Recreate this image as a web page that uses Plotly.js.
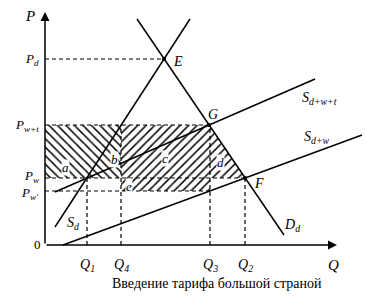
<!DOCTYPE html>
<html>
<head>
<meta charset="utf-8">
<script src="https://cdn.plot.ly/plotly-3.0.1.min.js"></script>
<style>
  html, body { margin: 0; padding: 0; background: #fff; }
  #chart { width: 366px; height: 300px; }
</style>
</head>
<body>
<div id="chart"></div>
<script>
// Price levels on the P axis
const priceNames = ['P<sub>d</sub>', 'P<sub>w+t</sub>', 'P<sub>w</sub>', "P<sub>w'</sub>"];
const priceValues = [186, 120, 67, 54];

// Quantity levels on the Q axis
const qtyNames = ['Q<sub>1</sub>', 'Q<sub>4</sub>', 'Q<sub>3</sub>', 'Q<sub>2</sub>'];
const qtyValues = [42, 76, 165, 200];

// Equilibrium points E, G, F
const pointNames = ['E', 'G', 'F'];
const pointQ = [119, 164, 200];
const pointP = [186, 120, 67];

// Curves (end points)
const demandQ = [92, 239];
const demandP = [226, 10];
const supplyDomQ = [10, 145];
const supplyDomP = [18, 226];
const supplyTariffQ = [10, 270];
const supplyTariffP = [53, 166];
const supplyWorldQ = [18, 317];
const supplyWorldP = [0, 110];

// Welfare areas
const areaLeftQ = [0, 76, 76, 0];
const areaLeftP = [67, 67, 120, 120];
const areaRightQ = [76, 164, 200, 165, 165, 76];
const areaRightP = [120, 120, 67, 67, 54, 54];

// Area letters
const areaNames = ['a', 'b', 'c', 'd', 'e'];
const areaQ = [20, 69, 120, 175, 84];
const areaP = [78, 86, 87, 83, 59];

const serif = 'Liberation Serif, Times New Roman, serif';
const solid = { color: '#000', width: 1.5 };
const dashed = { color: '#000', width: 1.2, dash: '4px,3px' };

const traces = [];

// hatched areas
traces.push({
  x: areaLeftQ, y: areaLeftP, type: 'scatter', mode: 'lines', fill: 'toself',
  line: { width: 0 }, fillcolor: 'rgba(0,0,0,0)',
  fillpattern: { shape: '\\', size: 6, solidity: 0.25, fgcolor: '#000', bgcolor: 'rgba(0,0,0,0)' },
  hoverinfo: 'skip', showlegend: false
});
traces.push({
  x: areaRightQ, y: areaRightP, type: 'scatter', mode: 'lines', fill: 'toself',
  line: { width: 0 }, fillcolor: 'rgba(0,0,0,0)',
  fillpattern: { shape: '/', size: 6, solidity: 0.25, fgcolor: '#000', bgcolor: 'rgba(0,0,0,0)' },
  hoverinfo: 'skip', showlegend: false
});

// dashed guides: horizontal from the P axis to each point
const hEnds = [pointQ[0], pointQ[1], pointQ[2], qtyValues[2]];
priceValues.forEach((p, i) => {
  traces.push({ x: [0, hEnds[i]], y: [p, p], mode: 'lines', line: dashed, showlegend: false, hoverinfo: 'skip' });
});
// vertical guides from the Q axis
const vTops = [priceValues[2], priceValues[1], priceValues[1], priceValues[2]];
qtyValues.forEach((q, i) => {
  traces.push({ x: [q, q], y: [0, vTops[i]], mode: 'lines', line: dashed, showlegend: false, hoverinfo: 'skip' });
});

// curves
[[demandQ, demandP], [supplyDomQ, supplyDomP], [supplyTariffQ, supplyTariffP], [supplyWorldQ, supplyWorldP]]
  .forEach(([xs, ys]) => {
    traces.push({ x: xs, y: ys, mode: 'lines', line: solid, showlegend: false, hoverinfo: 'skip' });
  });

// points
traces.push({ x: pointQ, y: pointP, mode: 'markers', marker: { color: '#000', size: 4 }, showlegend: false, hoverinfo: 'skip' });

const ann = [];
const txt = (x, y, text, size, extra) => Object.assign({
  x, y, xref: 'x', yref: 'y', text, showarrow: false,
  font: { family: serif, size, color: '#000' }
}, extra || {});

// axes with arrows
ann.push({ x: 0, y: 233, ax: 0, ay: 0, xref: 'x', yref: 'y', axref: 'x', ayref: 'y',
  text: '', showarrow: true, arrowhead: 2, arrowsize: 1.2, arrowwidth: 1.5, arrowcolor: '#000' });
ann.push({ x: 292, y: 0, ax: 0, ay: 0, xref: 'x', yref: 'y', axref: 'x', ayref: 'y',
  text: '', showarrow: true, arrowhead: 2, arrowsize: 1.2, arrowwidth: 1.5, arrowcolor: '#000' });

ann.push(txt(-15, 229, '<i>P</i>', 15));
ann.push(txt(288, -20, '<i>Q</i>', 15));
ann.push(txt(-8, 1, '0', 13));

// small vertical nudges keep the two close price labels apart
const priceShift = [0, 0, 2, -2];
priceNames.forEach((n, i) => ann.push(txt(-4, priceValues[i], '<i>' + n + '</i>', 13,
  { xanchor: 'right', yshift: priceShift[i] })));
qtyNames.forEach((n, i) => ann.push(txt(qtyValues[i], -20, '<i>' + n + '</i>', 14)));

ann.push(txt(pointQ[0] + 14, pointP[0] - 2, '<i>E</i>', 14));
ann.push(txt(pointQ[1] + 4, pointP[1] + 11, '<i>G</i>', 14));
ann.push(txt(pointQ[2] + 14, pointP[2] - 5, '<i>F</i>', 14));

areaNames.forEach((n, i) => ann.push(txt(areaQ[i], areaP[i], '<i>' + n + '</i>', 13, { bgcolor: '#fff', borderpad: 0 })));

ann.push(txt(247, 20, '<i>D<sub>d</sub></i>', 14));
ann.push(txt(28, 22, '<i>S<sub>d</sub></i>', 14));
ann.push(txt(255, 147, '<i>S<sub>d+w+t</sub></i>', 14, { xanchor: 'left' }));
ann.push(txt(257, 108, '<i>S<sub>d+w</sub></i>', 14, { xanchor: 'left' }));

ann.push(txt(172, -38, 'Введение тарифа большой страной', 14));

// one data unit per pixel; the axes span the whole figure
const layout = {
  width: 366, height: 300,
  margin: { l: 0, r: 0, t: 0, b: 0 },
  paper_bgcolor: '#fff', plot_bgcolor: '#fff',
  xaxis: { range: [-45, 321], visible: false, fixedrange: true },
  yaxis: { range: [-55, 245], visible: false, fixedrange: true },
  annotations: ann,
  showlegend: false
};

Plotly.newPlot('chart', traces, layout, { staticPlot: true, displayModeBar: false });
</script>
</body>
</html>
